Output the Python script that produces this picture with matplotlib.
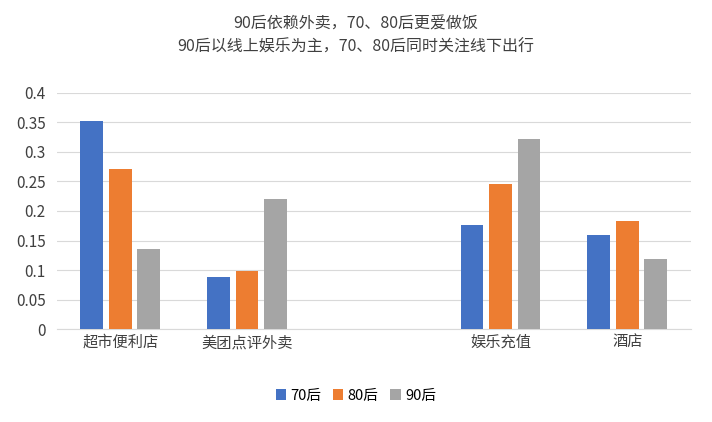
import matplotlib.pyplot as plt
import numpy as np

plt.rcParams['font.family'] = ['Noto Sans CJK SC', 'DejaVu Sans']

categories = ["超市便利店", "美团点评外卖", "", "娱乐充值", "酒店"]
series = ["70后", "80后", "90后"]
values_70 = [0.352, 0.088, np.nan, 0.176, 0.159]
values_80 = [0.271, 0.099, np.nan, 0.245, 0.183]
values_90 = [0.136, 0.221, np.nan, 0.322, 0.119]
colors = ["#4472c4", "#ed7d31", "#a5a5a5"]

fig = plt.figure(figsize=(7.12, 4.22), dpi=100)
ax = fig.add_axes([0.08, 0.22, 0.89, 0.56])

x = np.arange(len(categories))
width = 0.18
step = 0.225
for i, (name, vals) in enumerate(zip(series, [values_70, values_80, values_90])):
    ax.bar(x + (i - 1) * step, vals, width, label=name, color=colors[i], zorder=3)

ax.set_xlim(-0.5, len(categories) - 0.5)
ax.set_ylim(0, 0.4)
ax.set_yticks(np.arange(0, 0.41, 0.05))
ax.set_yticklabels(["0", "0.05", "0.1", "0.15", "0.2", "0.25", "0.3", "0.35", "0.4"])
ax.set_xticks(x)
ax.set_xticklabels(categories)
ax.tick_params(length=0, labelsize=11, colors="#404040")
ax.tick_params(axis="y", pad=8)
ax.grid(True, axis="y", color="#d9d9d9", linewidth=0.8, zorder=0)
for s in ["top", "right", "left"]:
    ax.spines[s].set_visible(False)
ax.spines["bottom"].set_color("#d9d9d9")

fig.text(0.5, 0.915, "90后依赖外卖，70、80后更爱做饭\n90后以线上娱乐为主，70、80后同时关注线下出行",
         ha="center", va="center", fontsize=11.5, color="#404040", linespacing=1.5)
fig.legend(loc="lower center", bbox_to_anchor=(0.5, 0.015), ncol=3, frameon=False,
           fontsize=10.5, handlelength=0.7, handleheight=0.7, columnspacing=0.8,
           handletextpad=0.3)
fig.savefig("out.png", dpi=100)
